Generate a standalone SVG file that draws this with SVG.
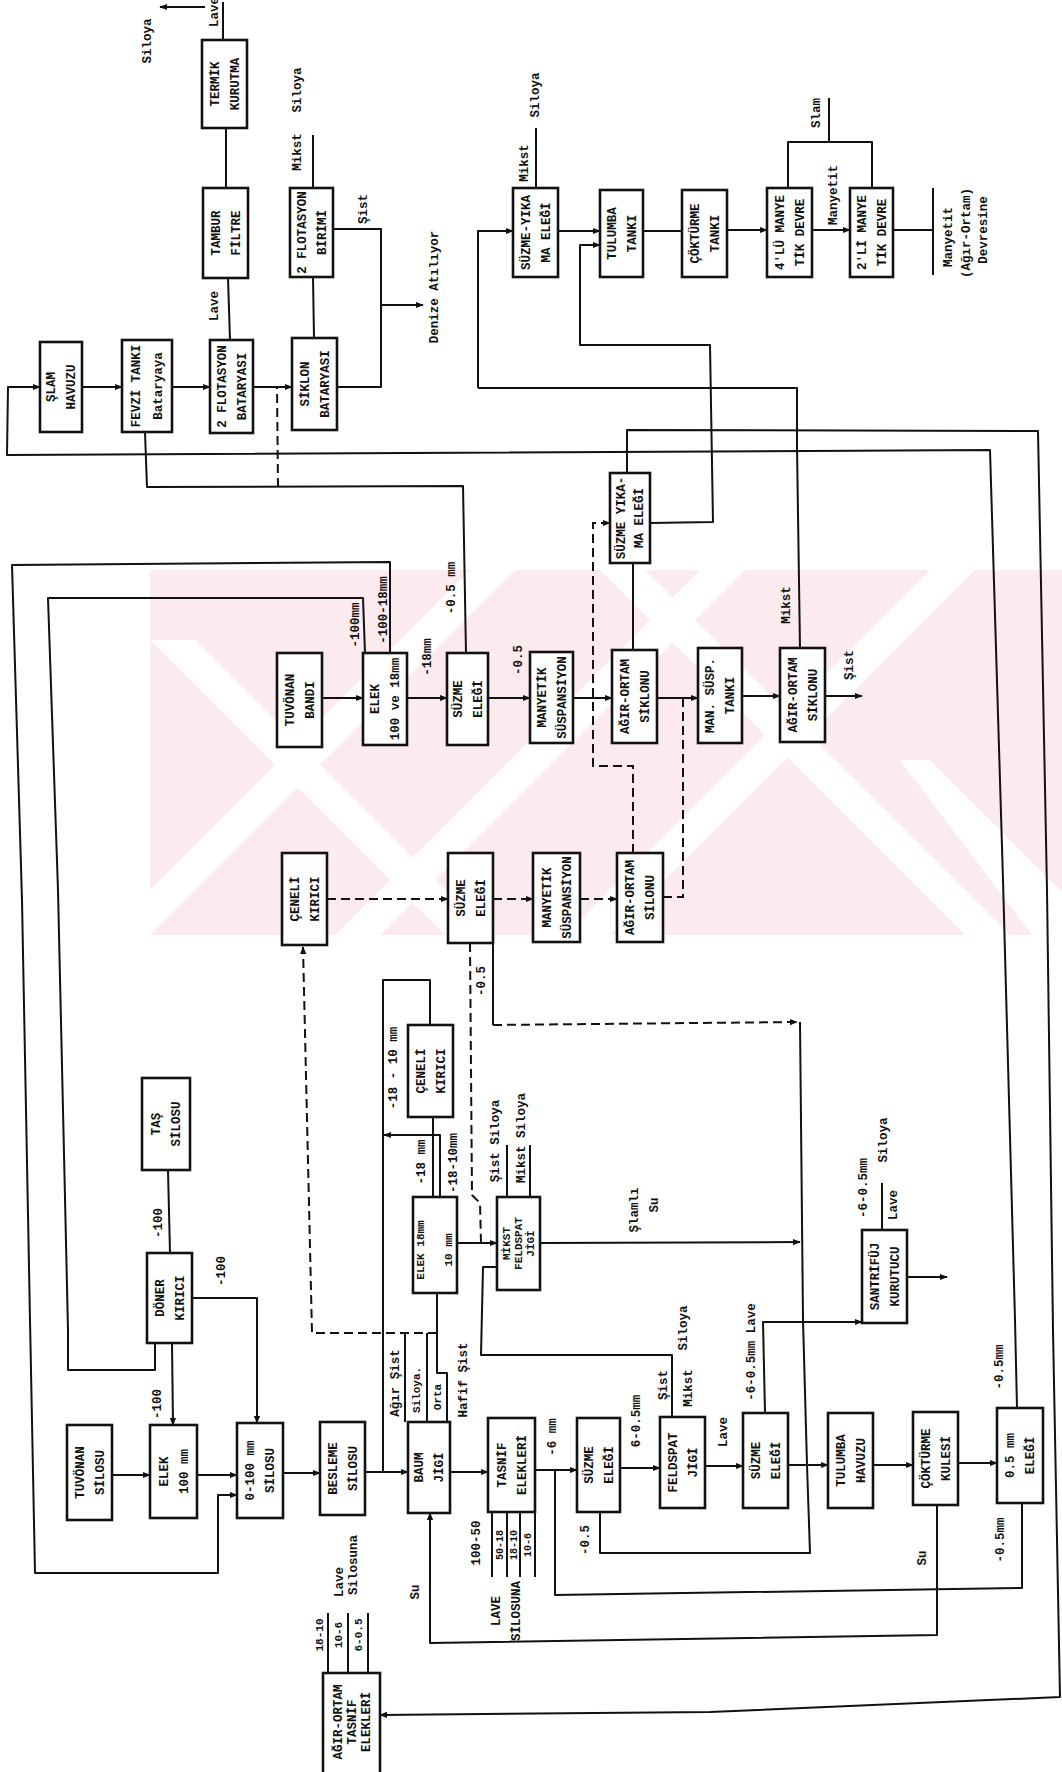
<svg xmlns="http://www.w3.org/2000/svg" width="1062" height="1772" viewBox="0 0 1062 1772">
<defs>
<style>
.bx{fill:#fff;stroke:#111;stroke-width:2.6}
.ln{fill:none;stroke:#111;stroke-width:2;stroke-linejoin:round}
.ds{fill:none;stroke:#111;stroke-width:2;stroke-dasharray:9 5}
.a{marker-end:url(#ar)}
text{font-family:"Liberation Mono","DejaVu Sans Mono",monospace;font-weight:bold;font-size:12.5px;fill:#111;text-anchor:middle}
.s9{font-size:10px}
.s11{font-size:11px}
.wm{fill:#fcebee}
.wh{fill:#fff}
</style>
<marker id="ar" viewBox="0 0 10 10" refX="9" refY="5" markerWidth="8" markerHeight="8" markerUnits="userSpaceOnUse" orient="auto"><path d="M0,1 L10,5 L0,9 z" fill="#111"/></marker>
<clipPath id="wmc"><rect x="150" y="570" width="912" height="365"/></clipPath>
</defs>
<rect width="1062" height="1772" fill="#fff"/>
<g id="watermark" clip-path="url(#wmc)">
<rect class="wm" x="150" y="570" width="912" height="365"/>
<polygon class="wh" points="470,570 515,570 150,935 105,935"/>
<polygon class="wh" points="700,570 745,570 380,935 335,935"/>
<polygon class="wh" points="930,570 975,570 610,935 565,935"/>
<polygon class="wh" points="150,640 195,640 490,935 445,935"/>
<polygon class="wh" points="600,570 645,570 1010,935 965,935"/>
<polygon class="wh" points="900,760 930,760 1062,892 1062,935 1032,935"/>
</g>
<g id="connectors">
<path class="ln a" d="M205,7 L160,7"/>
<path class="ln" d="M223,2 L223,40"/>
<path class="ln" d="M226,128 L226,188"/>
<path class="ln" d="M228,278 L230,340"/>
<path class="ln a" d="M82,387 L122,387"/>
<path class="ln a" d="M172,387 L210,387"/>
<path class="ln a" d="M253,387 L292,387"/>
<path class="ln a" d="M1017,1408 L1015,1320 L1003,880 L990,450 L7,455 L8,387 L40,387"/>
<path class="ln a" d="M627,473 L627,430 L1038,431 L1047,890 L1053,1330 L1060,1697 L710,1712 L380,1715"/>
<path class="ln" d="M313,135 L313,188"/>
<path class="ln" d="M313,277 L314,338"/>
<path class="ln" d="M333,229 L381,229 L381,387 L337,387"/>
<path class="ln a" d="M381,305 L423,305"/>
<path class="ln" d="M536,128 L536,188"/>
<path class="ln a" d="M478,388 L478,231 L513,231"/>
<path class="ln a" d="M558,231 L600,231"/>
<path class="ln" d="M643,231 L682,231"/>
<path class="ln a" d="M727,230 L767,230"/>
<path class="ln a" d="M812,230 L850,230"/>
<path class="ln" d="M788,188 L788,142 L872,142 L872,188 M829,142 L829,98"/>
<path class="ln" d="M893,230 L933,230 M933,188 L933,275"/>
<path class="ln" d="M800,648 L797,447 L797,388 L478,388"/>
<path class="ln a" d="M650,523 L713,522 L710,345 L580,345 L580,245 L600,245"/>
<path class="ln a" d="M322,698 L363,698"/>
<path class="ln a" d="M407,698 L447,698"/>
<path class="ln a" d="M488,698 L530,698"/>
<path class="ln a" d="M573,698 L612,698"/>
<path class="ln a" d="M657,698 L698,698"/>
<path class="ln a" d="M742,696 L780,696"/>
<path class="ln a" d="M825,696 L862,696"/>
<path class="ln" d="M466,653 L463,486 L147,487 L145,432"/>
<path class="ds" d="M278,487 L277,387"/>
<path class="ln a" d="M390,653 L390,562 L12,565 L22,900 L30,1320 L35,1573 L218,1573 L218,1495 L237,1495"/>
<path class="ln" d="M365,653 L363,598 L48,598 L58,890 L68,1330 L68,1370 L155,1370 L155,1343"/>
<path class="ln" d="M633,563 L633,650"/>
<path class="ds a" d="M633,853 L633,766 L593,766 L593,523 L610,523"/>
<path class="ds" d="M663,897 L683,897 L683,698"/>
<path class="ds a" d="M327,899 L448,899"/>
<path class="ds a" d="M493,899 L533,899"/>
<path class="ds a" d="M580,899 L617,899"/>
<path class="ds a" d="M437,1333 L312,1333 L303,947"/>
<path class="ln" d="M383,1472 L383,980 L430,980 L430,1025"/>
<path class="ln" d="M433,1117 L433,1197"/>
<path class="ln a" d="M440,1197 L440,1135 L384,1135"/>
<path class="ds" d="M436,1199 L436,1291"/>
<path class="ln" d="M447,1422 L447,1373 L437,1373 L437,1293"/>
<path class="ln" d="M405,1333 L405,1422 M427,1333 L427,1422"/>
<path class="ln" d="M497,1267 L483,1267 L481,1355 L672,1355 L672,1417"/>
<path class="ds" d="M470,943 L472,1195 L480,1203 L481,1243"/>
<path class="ln a" d="M457,1243 L497,1243"/>
<path class="ln a" d="M540,1243 L800,1242"/>
<path class="ln" d="M507,1197 L507,1145 M530,1197 L530,1145"/>
<path class="ln" d="M493,943 L493,1025"/>
<path class="ds a" d="M493,1025 L797,1022"/>
<path class="ln" d="M800,1022 L803,1320 L807,1465 L810,1553 L600,1553 L600,1512"/>
<path class="ln" d="M1022,1503 L1022,1588 L555,1595 L555,1470"/>
<path class="ln a" d="M937,1505 L937,1635 L430,1643 L430,1513"/>
<path class="ln a" d="M620,1468 L660,1468"/>
<path class="ln a" d="M705,1466 L743,1466"/>
<path class="ln a" d="M765,1413 L763,1322 L862,1322"/>
<path class="ln a" d="M788,1465 L828,1465"/>
<path class="ln a" d="M873,1465 L913,1465"/>
<path class="ln a" d="M958,1463 L997,1463"/>
<path class="ln a" d="M907,1277 L947,1277"/>
<path class="ln" d="M882,1230 L882,1183"/>
<path class="ln a" d="M112,1475 L150,1475"/>
<path class="ln a" d="M197,1475 L237,1475"/>
<path class="ln a" d="M283,1473 L320,1473"/>
<path class="ln a" d="M365,1472 L408,1472"/>
<path class="ln a" d="M450,1472 L488,1472"/>
<path class="ln a" d="M535,1470 L577,1470"/>
<path class="ln a" d="M192,1298 L257,1298 L257,1423"/>
<path class="ln a" d="M172,1343 L173,1425"/>
<path class="ln" d="M168,1170 L170,1253"/>
<path class="ln" d="M492,1512 L492,1577 M507,1512 L507,1577 M520,1512 L520,1577 M535,1512 L535,1577"/>
<path class="ln" d="M328,1613 L328,1673 M348,1613 L348,1673 M368,1613 L368,1673"/>
</g>
<g id="n-termik"><rect class="bx" x="202" y="40" width="45" height="88"/><g transform="translate(224.5 84) rotate(-90)"><text y="-6">TERMİK</text><text y="14">KURUTMA</text></g></g>
<g id="n-tambur"><rect class="bx" x="203" y="188" width="45" height="90"/><g transform="translate(225.5 233) rotate(-90)"><text y="-6">TAMBUR</text><text y="14">FİLTRE</text></g></g>
<g id="n-flotbat"><rect class="bx" x="210" y="340" width="43" height="93"/><g transform="translate(231.5 386.5) rotate(-90)"><text y="-6">2 FLOTASYON</text><text y="14">BATARYASI</text></g></g>
<g id="n-slam"><rect class="bx" x="40" y="342" width="42" height="90"/><g transform="translate(61 387) rotate(-90)"><text y="-6">ŞLAM</text><text y="14">HAVUZU</text></g></g>
<g id="n-fevzi"><rect class="bx" x="122" y="340" width="50" height="92"/><g transform="translate(147 386) rotate(-90)"><text y="-7">FEVZİ TANKI</text><text y="15">Bataryaya</text></g></g>
<g id="n-siklonbat"><rect class="bx" x="292" y="338" width="45" height="92"/><g transform="translate(314.5 384) rotate(-90)"><text y="-6">SİKLON</text><text y="14">BATARYASI</text></g></g>
<g id="n-flotbir"><rect class="bx" x="290" y="188" width="43" height="89"/><g transform="translate(311.5 232.5) rotate(-90)"><text y="-6">2 FLOTASYON</text><text y="14">BİRİMİ</text></g></g>
<g id="n-sye1"><rect class="bx" x="513" y="188" width="45" height="89"/><g transform="translate(535.5 232.5) rotate(-90)"><text y="-6">SÜZME-YIKA</text><text y="14">MA ELEĞİ</text></g></g>
<g id="n-tultank"><rect class="bx" x="600" y="190" width="43" height="87"/><g transform="translate(621.5 233.5) rotate(-90)"><text y="-6">TULUMBA</text><text y="14">TANKI</text></g></g>
<g id="n-coktank"><rect class="bx" x="682" y="190" width="45" height="87"/><g transform="translate(704.5 233.5) rotate(-90)"><text y="-6">ÇÖKTÜRME</text><text y="14">TANKI</text></g></g>
<g id="n-4lu"><rect class="bx" x="767" y="188" width="45" height="89"/><g transform="translate(789.5 232.5) rotate(-90)"><text y="-6">4'LÜ MANYE</text><text y="14">TİK DEVRE</text></g></g>
<g id="n-2li"><rect class="bx" x="850" y="188" width="43" height="89"/><g transform="translate(871.5 232.5) rotate(-90)"><text y="-6">2'Lİ MANYE</text><text y="14">TİK DEVRE</text></g></g>
<g id="n-tuvbandi"><rect class="bx" x="277" y="653" width="45" height="94"/><g transform="translate(299.5 700) rotate(-90)"><text y="-6">TUVÖNAN</text><text y="14">BANDI</text></g></g>
<g id="n-elek1"><rect class="bx" x="363" y="653" width="44" height="92"/><g transform="translate(385 699) rotate(-90)"><text y="-6">ELEK</text><text y="14">100 ve 18mm</text></g></g>
<g id="n-suzme1"><rect class="bx" x="447" y="653" width="41" height="92"/><g transform="translate(467.5 699) rotate(-90)"><text y="-6">SÜZME</text><text y="14">ELEĞİ</text></g></g>
<g id="n-mansusp1"><rect class="bx" x="530" y="652" width="43" height="91"/><g transform="translate(551.5 697.5) rotate(-90)"><text y="-6">MANYETİK</text><text y="14">SÜSPANSİYON</text></g></g>
<g id="n-aos1"><rect class="bx" x="612" y="650" width="45" height="93"/><g transform="translate(634.5 696.5) rotate(-90)"><text y="-6">AĞIR-ORTAM</text><text y="14">SİKLONU</text></g></g>
<g id="n-msusptank"><rect class="bx" x="698" y="648" width="44" height="95"/><g transform="translate(720 695.5) rotate(-90)"><text y="-6">MAN. SÜSP.</text><text y="14">TANKI</text></g></g>
<g id="n-aos2"><rect class="bx" x="780" y="648" width="45" height="94"/><g transform="translate(802.5 695) rotate(-90)"><text y="-6">AĞIR-ORTAM</text><text y="14">SİKLONU</text></g></g>
<g id="n-sye2"><rect class="bx" x="610" y="473" width="40" height="90"/><g transform="translate(630 518) rotate(-90)"><text y="-5">SÜZME YIKA-</text><text y="13">MA ELEĞİ</text></g></g>
<g id="n-ceneli1"><rect class="bx" x="282" y="853" width="45" height="92"/><g transform="translate(304.5 899) rotate(-90)"><text y="-6">ÇENELİ</text><text y="14">KIRICI</text></g></g>
<g id="n-suzme2"><rect class="bx" x="448" y="853" width="45" height="90"/><g transform="translate(470.5 898) rotate(-90)"><text y="-6">SÜZME</text><text y="14">ELEĞİ</text></g></g>
<g id="n-mansusp2"><rect class="bx" x="533" y="853" width="47" height="89"/><g transform="translate(556.5 897.5) rotate(-90)"><text y="-6">MANYETİK</text><text y="14">SÜSPANSİYON</text></g></g>
<g id="n-aos3"><rect class="bx" x="617" y="853" width="46" height="89"/><g transform="translate(640 897.5) rotate(-90)"><text y="-6">AĞIR-ORTAM</text><text y="14">SİLONU</text></g></g>
<g id="n-tas"><rect class="bx" x="142" y="1078" width="48" height="92"/><g transform="translate(166 1124) rotate(-90)"><text y="-6">TAŞ</text><text y="14">SİLOSU</text></g></g>
<g id="n-doner"><rect class="bx" x="147" y="1253" width="45" height="90"/><g transform="translate(169.5 1298) rotate(-90)"><text y="-6">DÖNER</text><text y="14">KIRICI</text></g></g>
<g id="n-ceneli2"><rect class="bx" x="408" y="1025" width="45" height="92"/><g transform="translate(430.5 1071) rotate(-90)"><text y="-6">ÇENELİ</text><text y="14">KIRICI</text></g></g>
<g id="n-elek18"><rect class="bx" x="413" y="1197" width="44" height="96"/><g transform="translate(435 1250) rotate(-90)"><text class="s11" y="-11">ELEK 18mm</text><text class="s11" y="17">10 mm</text></g></g>
<g id="n-mikstfeld"><rect class="bx" x="497" y="1197" width="43" height="93"/><g transform="translate(518.5 1243.5) rotate(-90)"><text class="s11" y="-8.5">MİKST</text><text class="s11" y="3.5">FELDSPAT</text><text class="s11" y="15.5">JİGİ</text></g></g>
<g id="n-santrifuj"><rect class="bx" x="862" y="1230" width="45" height="93"/><g transform="translate(884.5 1276.5) rotate(-90)"><text y="-6">SANTRİFÜJ</text><text y="14">KURUTUCU</text></g></g>
<g id="n-tuvsilo"><rect class="bx" x="67" y="1425" width="45" height="95"/><g transform="translate(89.5 1472.5) rotate(-90)"><text y="-6">TUVÖNAN</text><text y="14">SİLOSU</text></g></g>
<g id="n-elek100"><rect class="bx" x="150" y="1425" width="47" height="93"/><g transform="translate(173.5 1471.5) rotate(-90)"><text y="-6">ELEK</text><text y="14">100 mm</text></g></g>
<g id="n-silo0100"><rect class="bx" x="237" y="1423" width="46" height="95"/><g transform="translate(260 1470.5) rotate(-90)"><text y="-6">0-100 mm</text><text y="14">SİLOSU</text></g></g>
<g id="n-besleme"><rect class="bx" x="320" y="1422" width="45" height="93"/><g transform="translate(342.5 1468.5) rotate(-90)"><text y="-6">BESLEME</text><text y="14">SİLOSU</text></g></g>
<g id="n-baum"><rect class="bx" x="408" y="1422" width="42" height="91"/><g transform="translate(429 1467.5) rotate(-90)"><text y="-6">BAUM</text><text y="14">JİGİ</text></g></g>
<g id="n-tasnif"><rect class="bx" x="488" y="1418" width="47" height="94"/><g transform="translate(511.5 1465) rotate(-90)"><text y="-6">TASNİF</text><text y="14">ELEKLERİ</text></g></g>
<g id="n-suzme3"><rect class="bx" x="577" y="1418" width="43" height="94"/><g transform="translate(598.5 1465) rotate(-90)"><text y="-6">SÜZME</text><text y="14">ELEĞİ</text></g></g>
<g id="n-feldspat"><rect class="bx" x="660" y="1417" width="45" height="91"/><g transform="translate(682.5 1462.5) rotate(-90)"><text y="-6">FELDSPAT</text><text y="14">JİGİ</text></g></g>
<g id="n-suzme4"><rect class="bx" x="743" y="1413" width="45" height="95"/><g transform="translate(765.5 1460.5) rotate(-90)"><text y="-6">SÜZME</text><text y="14">ELEĞİ</text></g></g>
<g id="n-tulhavuz"><rect class="bx" x="828" y="1413" width="45" height="95"/><g transform="translate(850.5 1460.5) rotate(-90)"><text y="-6">TULUMBA</text><text y="14">HAVUZU</text></g></g>
<g id="n-cokkule"><rect class="bx" x="913" y="1412" width="45" height="93"/><g transform="translate(935.5 1458.5) rotate(-90)"><text y="-6">ÇÖKTÜRME</text><text y="14">KULESİ</text></g></g>
<g id="n-elek05"><rect class="bx" x="997" y="1408" width="46" height="95"/><g transform="translate(1020 1455.5) rotate(-90)"><text y="-6">0.5 mm</text><text y="14">ELEĞİ</text></g></g>
<g id="n-aote"><rect class="bx" x="323" y="1673" width="57" height="110"/><g transform="translate(351.5 1722) rotate(-90)"><text y="-10">AĞIR-ORTAM</text><text y="4">TASNİF</text><text y="18">ELEKLERİ</text></g></g>
<g id="labels">
<text transform="translate(147 41) rotate(-90)" y="4">Siloya</text>
<text transform="translate(214 12) rotate(-90)" y="4">Lave</text>
<text transform="translate(214 306) rotate(-90)" y="4">Lave</text>
<text transform="translate(297 90) rotate(-90)" y="4">Siloya</text>
<text transform="translate(297 152) rotate(-90)" y="4">Mikst</text>
<text transform="translate(363 209) rotate(-90)" y="4">Şist</text>
<text transform="translate(434 287) rotate(-90)" y="4">Denize Atılıyor</text>
<text transform="translate(524 163) rotate(-90)" y="4">Mikst</text>
<text transform="translate(535 95) rotate(-90)" y="4">Siloya</text>
<text transform="translate(833 195) rotate(-90)" y="4">Manyetit</text>
<text transform="translate(816 113) rotate(-90)" y="4">Slam</text>
<text transform="translate(948 237) rotate(-90)" y="4">Manyetit</text>
<text transform="translate(966 233) rotate(-90)" y="4">(Ağır-Ortam)</text>
<text transform="translate(983 230) rotate(-90)" y="4">Devresine</text>
<text transform="translate(355 625) rotate(-90)" y="4">-100mm</text>
<text transform="translate(383 610) rotate(-90)" y="4">-100-18mm</text>
<text transform="translate(427 657) rotate(-90)" y="4">-18mm</text>
<text transform="translate(451 588) rotate(-90)" y="4">-0.5 mm</text>
<text transform="translate(518 660) rotate(-90)" y="4">-0.5</text>
<text transform="translate(786 605) rotate(-90)" y="4">Mikst</text>
<text transform="translate(849 665) rotate(-90)" y="4">Şist</text>
<text transform="translate(481 981) rotate(-90)" y="4">-0.5</text>
<text transform="translate(393 1068) rotate(-90)" y="4">-18 - 10 mm</text>
<text transform="translate(421 1162) rotate(-90)" y="4">-18 mm</text>
<text transform="translate(453 1163) rotate(-90)" y="4">-18-10mm</text>
<text transform="translate(495 1141) rotate(-90)" y="4">Şist Siloya</text>
<text transform="translate(521 1138) rotate(-90)" y="4">Mikst Siloya</text>
<text transform="translate(634 1210) rotate(-90)" y="4">Şlamlı</text>
<text transform="translate(654 1205) rotate(-90)" y="4">Su</text>
<text transform="translate(863 1188) rotate(-90)" y="4">-6-0.5mm</text>
<text transform="translate(893 1205) rotate(-90)" y="4">Lave</text>
<text transform="translate(883 1140) rotate(-90)" y="4">Siloya</text>
<text transform="translate(158 1223) rotate(-90)" y="4">-100</text>
<text transform="translate(221 1271) rotate(-90)" y="4">-100</text>
<text transform="translate(157 1404) rotate(-90)" y="4">-100</text>
<text transform="translate(339 1582) rotate(-90)" y="4">Lave</text>
<text transform="translate(353 1565) rotate(-90)" y="4">Silosuna</text>
<text class="s11" transform="translate(319 1635) rotate(-90)" y="3.5">18-10</text>
<text class="s11" transform="translate(338 1635) rotate(-90)" y="3.5">10-6</text>
<text class="s11" transform="translate(358 1635) rotate(-90)" y="3.5">6-0.5</text>
<text transform="translate(395 1383) rotate(-90)" y="4">Ağır Şist</text>
<text class="s11" transform="translate(416 1390) rotate(-90)" y="3.5">Siloya.</text>
<text class="s11" transform="translate(437 1397) rotate(-90)" y="3.5">Orta</text>
<text transform="translate(463 1380) rotate(-90)" y="4">Hafif Şist</text>
<text transform="translate(415 1592) rotate(-90)" y="4">Su</text>
<text transform="translate(476 1543) rotate(-90)" y="4">100-50</text>
<text class="s9" transform="translate(499.5 1545) rotate(-90)" y="3">50-18</text>
<text class="s9" transform="translate(513.5 1545) rotate(-90)" y="3">18-10</text>
<text class="s9" transform="translate(527.5 1545) rotate(-90)" y="3">10-6</text>
<text transform="translate(496 1611) rotate(-90)" y="4">LAVE</text>
<text transform="translate(516 1611) rotate(-90)" y="4">SİLOSUNA</text>
<text transform="translate(552 1437) rotate(-90)" y="4">-6 mm</text>
<text transform="translate(585 1540) rotate(-90)" y="4">-0.5</text>
<text transform="translate(636 1421) rotate(-90)" y="4">6-0.5mm</text>
<text transform="translate(663 1385) rotate(-90)" y="4">Şist</text>
<text transform="translate(688 1388) rotate(-90)" y="4">Mikst</text>
<text transform="translate(683 1328) rotate(-90)" y="4">Siloya</text>
<text transform="translate(723 1432) rotate(-90)" y="4">Lave</text>
<text transform="translate(751 1352) rotate(-90)" y="4">-6-0.5mm Lave</text>
<text transform="translate(999 1367) rotate(-90)" y="4">-0.5mm</text>
<text transform="translate(1000 1540) rotate(-90)" y="4">-0.5mm</text>
<text transform="translate(922 1558) rotate(-90)" y="4">Su</text>
</g>
</svg>
